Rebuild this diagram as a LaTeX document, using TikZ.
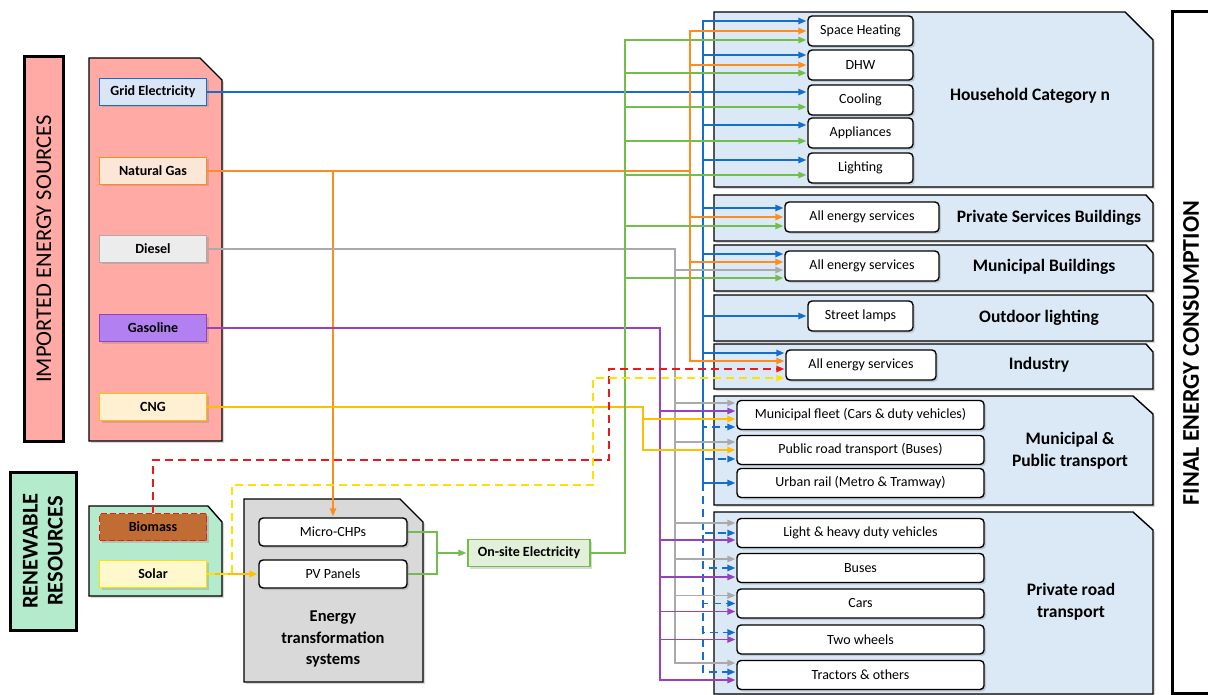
\documentclass[tikz,border=0pt]{standalone}
\usepackage{fontspec}
\setmainfont{Carlito}
\usetikzlibrary{arrows.meta,shadows}

\definecolor{elec}{RGB}{20,110,205}
\definecolor{elecfill}{RGB}{218,230,245}
\definecolor{gasc}{RGB}{255,140,30}
\definecolor{gasfill}{RGB}{252,230,215}
\definecolor{dsl}{RGB}{170,170,170}
\definecolor{dslfill}{RGB}{236,236,236}
\definecolor{gsl}{RGB}{150,65,190}
\definecolor{gslfill}{RGB}{178,128,240}
\definecolor{cngc}{RGB}{255,190,0}
\definecolor{cngfill}{RGB}{255,240,210}
\definecolor{onsc}{RGB}{115,190,75}
\definecolor{onsfill}{RGB}{226,240,217}
\definecolor{bioc}{RGB}{235,25,25}
\definecolor{biofill}{RGB}{192,108,50}
\definecolor{solc}{RGB}{255,225,0}
\definecolor{solfill}{RGB}{255,248,205}
\definecolor{pinkbg}{RGB}{255,170,165}
\definecolor{mintbg}{RGB}{180,235,205}
\definecolor{usebg}{RGB}{219,233,246}
\definecolor{etsbg}{RGB}{217,217,217}

\tikzset{
  softshadow/.style={drop shadow={shadow xshift=2pt,shadow yshift=-2pt,opacity=0.3}},
  titlebar/.style={draw=black,line width=3pt,softshadow},
  panel/.style={draw=black,line width=1.4pt,softshadow},
  src/.style={line width=1.4pt,minimum width=107pt,minimum height=27pt,inner sep=0pt,
    font=\bfseries\fontsize{14}{16}\selectfont,softshadow},
  item/.style={draw=black,fill=white,line width=1.4pt,rounded corners=4pt,inner sep=0pt,
    minimum height=29pt,font=\fontsize{14}{16}\selectfont,softshadow},
  paneltext/.style={font=\bfseries\fontsize{17.5}{22}\selectfont,align=center},
  flow/.style={line width=1.4pt,-{Triangle[length=8pt,width=6.5pt]},shorten >=1pt},
  dashflow/.style={flow,dash pattern=on 8pt off 5pt}
}

\begin{document}
\begin{tikzpicture}[x=1pt,y=-1pt]
  \useasboundingbox (0,0) rectangle (1208,695);

  % Title bars
  \draw[titlebar,fill=pinkbg] (24,57) rectangle (63,441);
  \node[rotate=90,font=\fontsize{22.5}{24}\selectfont] (imptitle) at (44,249) {IMPORTED ENERGY SOURCES};
  \draw[titlebar,fill=mintbg] (10,472) rectangle (76,630);
  \node[rotate=90,align=center,font=\bfseries\fontsize{22.5}{25}\selectfont] (rentitle) at (43,551) {RENEWABLE\\RESOURCES};
  \draw[titlebar,fill=white] (1172,12) rectangle (1214,693);
  \node[rotate=90,font=\bfseries\fontsize{24}{26}\selectfont] (fintitle) at (1191,353) {FINAL ENERGY CONSUMPTION};

  % Source panels
  \draw[panel,fill=pinkbg] (89,58) -- (200,58) -- (222,80) -- (222,441) -- (89,441) -- cycle;
  \draw[panel,fill=mintbg] (89,506) -- (208,506) -- (222,522) -- (222,596) -- (89,596) -- cycle;
  \draw[panel,fill=etsbg] (244,499) -- (400,499) -- (423,522) -- (423,682) -- (244,682) -- cycle;

  % Consumption panels
  \draw[panel,fill=usebg] (714,12) -- (1125,12) -- (1153,40) -- (1153,187) -- (714,187) -- cycle;
  \draw[panel,fill=usebg] (714,195) -- (1146,195) -- (1153,203) -- (1153,241) -- (714,241) -- cycle;
  \draw[panel,fill=usebg] (714,245) -- (1146,245) -- (1153,253) -- (1153,291) -- (714,291) -- cycle;
  \draw[panel,fill=usebg] (714,295) -- (1146,295) -- (1153,303) -- (1153,341) -- (714,341) -- cycle;
  \draw[panel,fill=usebg] (714,344) -- (1146,344) -- (1153,352) -- (1153,389) -- (714,389) -- cycle;
  \draw[panel,fill=usebg] (714,396) -- (1133,396) -- (1153,414) -- (1153,505) -- (714,505) -- cycle;
  \draw[panel,fill=usebg] (714,512) -- (1133,512) -- (1153,530) -- (1153,694) -- (714,694) -- cycle;

  % Energy sources
  \node[src,draw=elec,fill=elecfill] (grid) at (153,92) {Grid Electricity};
  \node[src,draw=gasc,fill=gasfill] (gas) at (153,171) {Natural Gas};
  \node[src,draw=dsl,fill=dslfill] (diesel) at (153,249) {Diesel};
  \node[src,draw=gsl,fill=gslfill] (gasoline) at (153,328) {Gasoline};
  \node[src,draw=cngc,fill=cngfill] (cng) at (153,407) {CNG};
  \node[src,draw=bioc,fill=biofill,dash pattern=on 6pt off 3pt] (biomass) at (153,527) {Biomass};
  \node[src,draw=solc,fill=solfill] (solar) at (153,574) {Solar};

  % Transformation
  \node[item,minimum width=148pt,minimum height=28pt] (chp) at (333,532) {Micro-CHPs};
  \node[item,minimum width=148pt,minimum height=28pt] (pv) at (333,574) {PV Panels};
  \node[paneltext,font=\bfseries\fontsize{16.5}{21.5}\selectfont] (etslabel) at (333,639) {Energy\\transformation\\systems};
  \node[src,draw=onsc,fill=onsfill,minimum width=122pt] (onsite) at (529,553) {On-site Electricity};

  % Households
  \node[item,minimum width=105pt,minimum height=30pt] (sh) at (860.5,31) {Space Heating};
  \node[item,minimum width=105pt,minimum height=30pt] (dhw) at (860.5,65) {DHW};
  \node[item,minimum width=105pt,minimum height=30pt] (cool) at (860.5,100) {Cooling};
  \node[item,minimum width=105pt,minimum height=30pt] (appl) at (860.5,133) {Appliances};
  \node[item,minimum width=105pt,minimum height=30pt] (light) at (860.5,168) {Lighting};
  \node[paneltext] (hhlabel) at (1030,96) {Household Category n};

  % Buildings, lighting, industry
  \node[item,minimum width=154pt,minimum height=30pt] (psb) at (862,217) {All energy services};
  \node[paneltext] (psblabel) at (1049,218) {Private Services Buildings};
  \node[item,minimum width=154pt,minimum height=30pt] (mb) at (862,266) {All energy services};
  \node[paneltext] (mblabel) at (1044,267) {Municipal Buildings};
  \node[item,minimum width=105pt,minimum height=30pt] (lamps) at (860.5,316) {Street lamps};
  \node[paneltext] (odlabel) at (1039,318) {Outdoor lighting};
  \node[item,minimum width=150pt,minimum height=30pt] (ind) at (861,365) {All energy services};
  \node[paneltext] (indlabel) at (1039,365) {Industry};

  % Transport
  \node[item,minimum width=247pt] (fleet) at (860.5,415) {Municipal fleet (Cars \& duty vehicles)};
  \node[item,minimum width=247pt] (public) at (860.5,450) {Public road transport (Buses)};
  \node[item,minimum width=247pt] (rail) at (860.5,483) {Urban rail (Metro \& Tramway)};
  \node[paneltext] (mptlabel) at (1070,451) {Municipal \&\\Public transport};
  \node[item,minimum width=247pt] (lhdv) at (860.5,533) {Light \& heavy duty vehicles};
  \node[item,minimum width=247pt] (buses) at (860.5,568) {Buses};
  \node[item,minimum width=247pt] (cars) at (860.5,603.5) {Cars};
  \node[item,minimum width=247pt] (twow) at (860.5,639.5) {Two wheels};
  \node[item,minimum width=247pt] (tract) at (860.5,675) {Tractors \& others};
  \node[paneltext] (prtlabel) at (1071,602) {Private road\\transport};

  % Bus lines
  \coordinate (eb) at (703,92);
  \coordinate (ob) at (690,171);
  \coordinate (db) at (675,249);
  \coordinate (pb) at (660,328);
  \coordinate (cb) at (643,407);
  \coordinate (gb) at (625,553);
  \coordinate (jn) at (437,553);
  \coordinate (r1) at (609,460);
  \coordinate (s1) at (232,485);
  \coordinate (s2) at (593,485);

  % Grid electricity
  \draw[flow,elec] (grid.east) -- (grid.east -| cool.west);
  \draw[flow,elec] (eb) |- ([yshift=10pt]sh.west);
  \draw[flow,elec] (eb) |- ([yshift=10pt]dhw.west);
  \draw[flow,elec] (eb) |- ([yshift=8pt]appl.west);
  \draw[flow,elec] (eb) |- ([yshift=8pt]light.west);
  \draw[flow,elec] (eb) |- ([yshift=9pt]psb.west);
  \draw[flow,elec] (eb) |- ([yshift=12pt]mb.west);
  \draw[flow,elec] (eb) |- (lamps.west);
  \draw[flow,elec] (eb) |- ([yshift=12pt]ind.west);
  \draw[flow,elec] (eb) |- (rail.west);
  \draw[dashflow,elec] (eb |- rail.west) |- ([yshift=-12pt]fleet.west);
  \draw[dashflow,elec] (eb |- rail.west) |- ([yshift=-9pt]public.west);
  \draw[dashflow,elec] (eb |- rail.west) |- (lhdv.west);
  \draw[dashflow,elec] (eb |- rail.west) |- (buses.west);
  \draw[dashflow,elec] (eb |- rail.west) |- (cars.west);
  \draw[dashflow,elec] (eb |- rail.west) |- ([yshift=7pt]twow.west);
  \draw[dashflow,elec] (eb |- rail.west) |- ([yshift=3pt]tract.west);

  % Natural gas
  \draw[flow,gasc] (gas.east) -| (chp.north);
  \draw[flow,gasc] (gas.east) -- (ob) |- (sh.west);
  \draw[flow,gasc] (ob) |- (dhw.west);
  \draw[flow,gasc] (ob) |- (psb.west);
  \draw[flow,gasc] (ob) |- ([yshift=4pt]mb.west);
  \draw[flow,gasc] (ob) |- ([yshift=4pt]ind.west);

  % Diesel
  \draw[flow,dsl] (diesel.east) -- (db) |- ([yshift=-4pt]mb.west);
  \draw[flow,dsl] (db) |- ([yshift=12pt]fleet.west);
  \draw[flow,dsl] (db) |- ([yshift=8pt]public.west);
  \draw[flow,dsl] (db) |- ([yshift=10pt]lhdv.west);
  \draw[flow,dsl] (db) |- ([yshift=9pt]buses.west);
  \draw[flow,dsl] (db) |- ([yshift=8pt]cars.west);
  \draw[flow,dsl] (db) |- ([yshift=12pt]tract.west);

  % Gasoline
  \draw[flow,gsl] (gasoline.east) -- (pb) |- ([yshift=4pt]fleet.west);
  \draw[flow,gsl] (pb) |- ([yshift=-7pt]lhdv.west);
  \draw[flow,gsl] (pb) |- ([yshift=-9pt]buses.west);
  \draw[flow,gsl] (pb) |- ([yshift=-8pt]cars.west);
  \draw[flow,gsl] (pb) |- (twow.west);
  \draw[flow,gsl] (pb) |- ([yshift=-5pt]tract.west);

  % CNG
  \draw[flow,cngc] (cng.east) -- (cb) |- ([yshift=-4pt]fleet.west);
  \draw[flow,cngc] (cb) |- (public.west);

  % On-site electricity
  \draw[line width=1.4pt,onsc] (chp.east) -| (jn);
  \draw[line width=1.4pt,onsc] (pv.east) -| (jn);
  \draw[flow,onsc] (jn) -- (onsite.west);
  \draw[flow,onsc] (onsite.east) -- (gb) |- ([yshift=-9pt]sh.west);
  \draw[flow,onsc] (gb) |- ([yshift=-8pt]dhw.west);
  \draw[flow,onsc] (gb) |- ([yshift=-7pt]cool.west);
  \draw[flow,onsc] (gb) |- ([yshift=-8pt]appl.west);
  \draw[flow,onsc] (gb) |- ([yshift=-7pt]light.west);
  \draw[flow,onsc] (gb) |- ([yshift=-9pt]psb.west);
  \draw[flow,onsc] (gb) |- ([yshift=-12pt]mb.west);

  % Renewables
  \draw[flow,cngc] (solar.east) -- (pv.west);
  \draw[dashflow,bioc] (biomass.north) |- (r1) |- ([yshift=-4pt]ind.west);
  \draw[dashflow,solc] (solar.east) -| (s1) -- (s2) |- ([yshift=-13pt]ind.west);
\end{tikzpicture}
\end{document}
